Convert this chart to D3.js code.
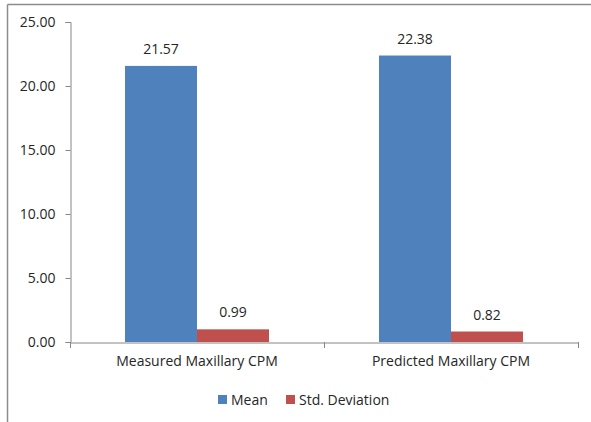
<!DOCTYPE html>
<html>
<head>
<meta charset="utf-8">
<script src="https://cdn.jsdelivr.net/npm/d3@7"></script>
<style>
  html, body { margin: 0; padding: 0; background: #fff; }
  svg { display: block; }
  text { font-family: "Open Sans", "Noto Sans", sans-serif; fill: #262626; }
</style>
</head>
<body>
<svg id="chart" width="591" height="422"></svg>
<script>
// Maxillary CPM: measured vs predicted
const categories = ["Measured Maxillary CPM", "Predicted Maxillary CPM"];
const seriesNames = ["Mean", "Std. Deviation"];
const meanValues = [21.57, 22.38];
const sdValues = [0.99, 0.82];
const yTicks = [0, 5, 10, 15, 20, 25];
const colors = ["#4F81BD", "#C0504D"];

const FONT = '"Open Sans", "Noto Sans", sans-serif';
const FS = 14;

const svg = d3.select("#chart");

// outer frame (top and left edges visible)
svg.append("line").attr("x1", 7.5).attr("x2", 591).attr("y1", 4.5).attr("y2", 4.5)
  .attr("stroke", "#8c8c8c").attr("stroke-width", 1.5);
svg.append("line").attr("x1", 7.5).attr("x2", 7.5).attr("y1", 4.5).attr("y2", 422)
  .attr("stroke", "#8c8c8c").attr("stroke-width", 1.5);

const plot = { left: 70, right: 578, top: 22, bottom: 342 };

const x0 = d3.scaleBand().domain(categories).range([plot.left, plot.right]).paddingInner(0).paddingOuter(0);
const x1 = d3.scaleBand().domain(seriesNames).range([0, 144]);
const y = d3.scaleLinear().domain([0, 25]).range([plot.bottom, plot.top]);

const rows = categories.map((c, i) => ({ cat: c, vals: [meanValues[i], sdValues[i]] }));

// y axis
const yAxis = svg.append("g").attr("transform", `translate(${plot.left + 0.5},0)`)
  .call(d3.axisLeft(y).tickValues(yTicks).tickFormat(d3.format(".2f")).tickSize(5).tickPadding(10));
yAxis.select(".domain").attr("stroke", "#868686");
yAxis.selectAll(".tick line").attr("stroke", "#868686");
yAxis.selectAll(".tick text").attr("font-size", FS).attr("fill", "#262626")
  .style("font-family", FONT);

// bars
const groups = svg.append("g").selectAll("g").data(rows).join("g")
  .attr("transform", d => `translate(${x0(d.cat) + (x0.bandwidth() - 144) / 2},0)`);

groups.selectAll("rect").data(d => d.vals.map((v, j) => ({ v, s: seriesNames[j], j })))
  .join("rect")
  .attr("x", d => x1(d.s))
  .attr("width", x1.bandwidth())
  .attr("y", d => y(d.v))
  .attr("height", d => y(0) - y(d.v))
  .attr("fill", d => colors[d.j]);

groups.selectAll("text.val").data(d => d.vals.map((v, j) => ({ v, s: seriesNames[j] })))
  .join("text").attr("class", "val")
  .attr("x", d => x1(d.s) + x1.bandwidth() / 2)
  .attr("y", d => y(d.v) - 12)
  .attr("text-anchor", "middle")
  .attr("font-size", FS)
  .text(d => d.v.toFixed(2));

// x axis
const xAxis = svg.append("g").attr("transform", `translate(0,${plot.bottom + 0.5})`)
  .call(d3.axisBottom(x0).tickSize(0).tickPadding(14).tickSizeOuter(0));
xAxis.select(".domain").attr("stroke", "#868686");
xAxis.selectAll(".tick text").attr("font-size", FS).attr("fill", "#262626")
  .style("font-family", FONT);
// category separators
const seps = [plot.left, x0(categories[1]), plot.right];
svg.append("g").selectAll("line").data(seps).join("line")
  .attr("x1", d => d + 0.5).attr("x2", d => d + 0.5)
  .attr("y1", plot.bottom).attr("y2", plot.bottom + 6)
  .attr("stroke", "#868686");

// legend
const legendItems = [
  { name: seriesNames[0], color: colors[0], x: 218 },
  { name: seriesNames[1], color: colors[1], x: 286 }
];
const lg = svg.append("g").selectAll("g").data(legendItems).join("g")
  .attr("transform", d => `translate(${d.x},395)`);
lg.append("rect").attr("width", 9).attr("height", 9).attr("fill", d => d.color);
lg.append("text").attr("x", 13).attr("y", 9.5).attr("font-size", FS).text(d => d.name);
</script>
</body>
</html>
